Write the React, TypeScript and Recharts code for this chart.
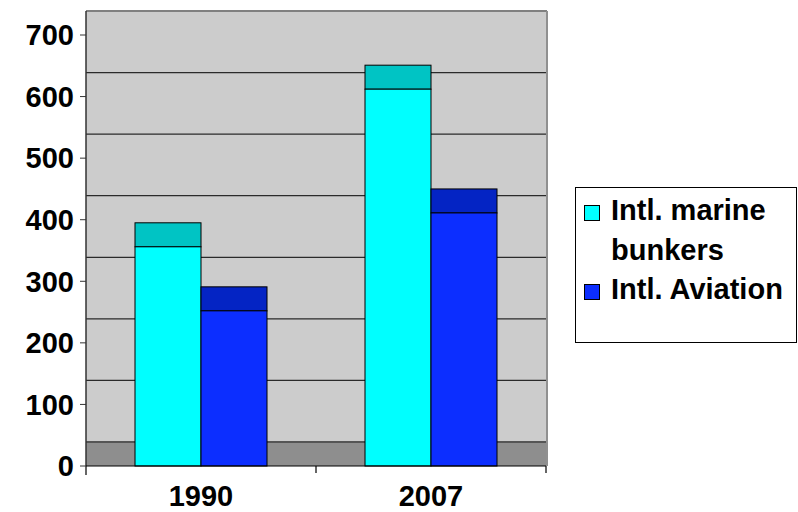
import { Bar, BarChart, CartesianGrid, XAxis, YAxis } from "recharts";

const years = ["1990", "2007"];
const marineBunkers = [356, 612];
const aviation = [252, 411];
const yTicks = [0, 100, 200, 300, 400, 500, 600, 700];
const seriesNames = ["Intl. marine bunkers", "Intl. Aviation"];
const frontColors = ["#00ffff", "#0c2eff"];
const topColors = ["#00c4c4", "#0424c4"];

const FONT = "'Liberation Sans', Arial, sans-serif";
const DEPTH = 24;

const data = years.map((year, i) => ({
  year,
  marine: marineBunkers[i],
  aviation: aviation[i],
}));

// bar with a flat "3d" top face behind it
const makeBar = (front: string, top: string) => (props: any) => {
  const { x, y, width, height } = props;
  return (
    <g>
      <rect x={x} y={y - DEPTH} width={width} height={DEPTH} fill={top} stroke="#000" strokeWidth={1} />
      <rect x={x} y={y} width={width} height={height} fill={front} stroke="#000" strokeWidth={1} />
    </g>
  );
};

// gridlines sit on the back wall, shifted up by the depth
const wallLine = (p: any) => {
  const { x1, x2, y1, x, y, width, height, index } = p;
  const isTop = Math.abs(y1 - y) < 0.5;
  const isBottom = Math.abs(y1 - (y + height)) < 0.5;
  return (
    <g key={`wl-${index}`}>
      {isTop && (
        <g>
          <rect x={x1} y={y1 - DEPTH} width={x2 - x1} height={DEPTH} fill="#cccccc" />
          <line x1={x1} x2={x2 + 1} y1={y1 - DEPTH} y2={y1 - DEPTH} stroke="#808080" strokeWidth={2} />
          <line x1={x2 + 1} x2={x2 + 1} y1={y1 - DEPTH} y2={y + height} stroke="#909090" strokeWidth={2} />
          <line x1={x} x2={x} y1={y1 - DEPTH} y2={y + height + 9} stroke="#333" strokeWidth={1.5} />
        </g>
      )}
      {isBottom && (
        <g>
          <rect x={x1} y={y1 - DEPTH} width={x2 - x1} height={DEPTH} fill="#8e8e8e" />
          <line x1={x + width / 2} x2={x + width / 2} y1={y1} y2={y1 + 7} stroke="#333" strokeWidth={1.5} />
          <line x1={x + width} x2={x + width} y1={y1} y2={y1 + 7} stroke="#333" strokeWidth={1.5} />
        </g>
      )}
      {!isTop && (
        <line
          x1={x1}
          x2={x2}
          y1={y1 - DEPTH}
          y2={y1 - DEPTH}
          stroke={isBottom ? "#555" : "#2a2a2a"}
          strokeWidth={isBottom ? 2 : 1.2}
        />
      )}
    </g>
  );
};

const tickStyle = { fontSize: 29, fontWeight: 700, fill: "#000", fontFamily: FONT };

const Legend3d = () => (
  <div
    style={{
      position: "absolute",
      left: 575,
      top: 187,
      width: 222,
      height: 156,
      boxSizing: "border-box",
      border: "1px solid #000",
      background: "#fff",
      fontFamily: FONT,
      fontSize: 29,
      fontWeight: 700,
      lineHeight: "39.5px",
      color: "#000",
    }}
  >
    <div style={{ position: "absolute", left: 8, top: 3, width: 212 }}>
      {seriesNames.map((name, i) => (
        <div key={name} style={{ display: "flex", alignItems: "flex-start" }}>
          <div
            style={{
              width: 16,
              height: 16,
              boxSizing: "border-box",
              border: "1px solid #000",
              background: frontColors[i],
              marginTop: 14,
              flex: "none",
            }}
          />
          <div style={{ marginLeft: 11, width: 186 }}>{name}</div>
        </div>
      ))}
    </div>
  </div>
);

const App = () => {
  return (
    <div style={{ position: "absolute", left: 0, top: 0, width: 798, height: 512, background: "#fff" }}>
      <BarChart
        width={798}
        height={512}
        data={data}
        margin={{ top: 35, right: 252, left: 0, bottom: 0 }}
        barGap={0}
        barSize={66}
      >
        <CartesianGrid vertical={false} fill="#cccccc" horizontal={wallLine} />
        <XAxis
          dataKey="year"
          height={46}
          stroke="#000"
          tickLine={false}
          tickSize={0}
          tickMargin={19}
          tick={tickStyle}
        />
        <YAxis
          width={86}
          domain={[0, 700]}
          ticks={yTicks}
          axisLine={false}
          tickSize={6}
          tickMargin={6}
          tickLine={{ stroke: "#333" }}
          tick={tickStyle}
        />
        <Bar dataKey="marine" name={seriesNames[0]} shape={makeBar(frontColors[0], topColors[0])} isAnimationActive={false} />
        <Bar dataKey="aviation" name={seriesNames[1]} shape={makeBar(frontColors[1], topColors[1])} isAnimationActive={false} />
      </BarChart>
      <Legend3d />
    </div>
  );
};

export default App;
